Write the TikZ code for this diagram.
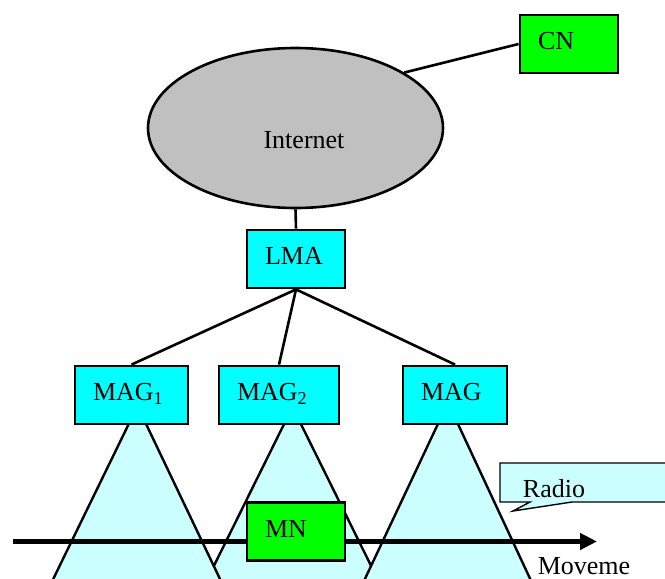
\documentclass[tikz,border=0pt]{standalone}
\usepackage{fontspec}
\setmainfont{Liberation Serif}
\usetikzlibrary{arrows.meta,shapes.geometric}
\definecolor{boxcyan}{HTML}{00FFFF}
\definecolor{cellcyan}{HTML}{CCFFFF}
\definecolor{hostgreen}{HTML}{00FF00}
\definecolor{netgray}{HTML}{C0C0C0}

\begin{document}
\begin{tikzpicture}[x=1pt,y=-1pt,
  font=\fontsize{26}{30}\selectfont,
  box/.style={draw,line width=2.8pt,inner xsep=18pt,inner ysep=0pt,
    minimum height=58pt,text height=17pt,text depth=6pt,align=left},
  link/.style={line width=2.6pt},
  cell/.style={fill=cellcyan,draw,line width=2.4pt},
  lbl/.style={inner sep=0pt}]
\useasboundingbox (0,0) rectangle (665,579);
\clip (0,0) rectangle (665,579);

% radio cells under the MAGs
\foreach \ax/\ay/\bl/\br in {292.5/407/197/388, 137.5/406/43/230, 448/402.6/355/540}
{
\draw[cell] (\ax,\ay) -- (\bl,600) -- (\br,600) -- cycle;
}

% movement of the MN
\coordinate (mvstart) at (13,541.5);
\coordinate (mvend) at (597,541.5);
\draw[line width=5.3pt,-{Triangle[length=17pt,width=16pt]}] (mvstart) -- (mvend);
\node[lbl] (move) at (584,566) {Moveme};

% callout
\draw[fill=cellcyan,line width=1.4pt] (500,463) -- (700,463) -- (700,502)
  -- (572,502) -- (513,511) -- (530,502) -- (500,502) -- cycle;
\node[lbl] (radio) at (554,489) {Radio};

\node[ellipse,draw,fill=netgray,line width=2.6pt,inner sep=0pt,
  minimum width=295pt,minimum height=160pt] (inet) at (295.5,128) {};
\node[lbl] (inetlabel) at (304,140) {Internet};

\node[box,fill=hostgreen,text width=62pt] (CN) at (569,44) {CN};
\node[box,fill=boxcyan,text width=62pt] (LMA) at (296,259) {LMA};
\node[box,fill=boxcyan,text width=77pt] (MAG1) at (131.5,395) {MAG\textsubscript{1}};
\node[box,fill=boxcyan,text width=84pt] (MAG2) at (279,395) {MAG\textsubscript{2}};
\node[box,fill=boxcyan,text width=68pt] (MAG3) at (455,395) {MAG};
\node[box,fill=hostgreen,text width=62pt] (MN) at (296,531.5) {MN};

\draw[link] (CN.west) -- (inet.27);
\draw[link] (inet.south) -- (LMA.north);
\foreach \m in {MAG1,MAG2,MAG3}
  \draw[link] (LMA.south) -- (\m.north);
\end{tikzpicture}
\end{document}
